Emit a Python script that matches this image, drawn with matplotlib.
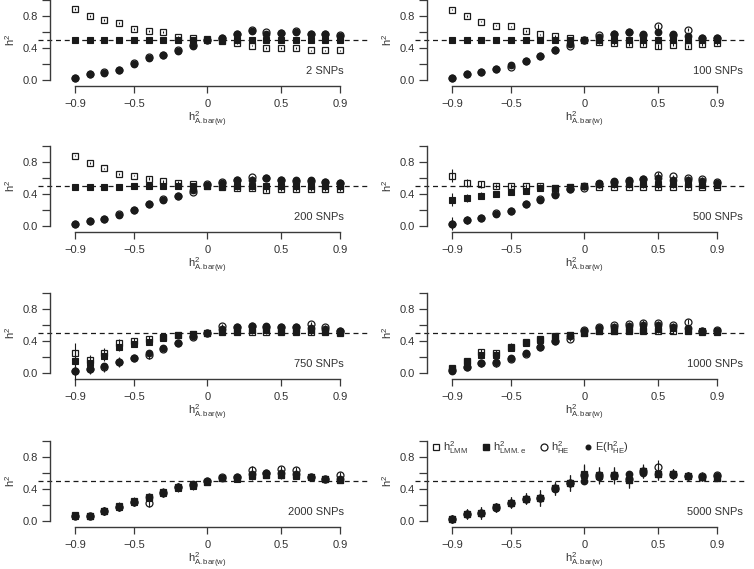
import matplotlib
matplotlib.use("Agg")
import matplotlib.pyplot as plt
from matplotlib.lines import Line2D
import numpy as np

plt.rcParams['font.family'] = ['Liberation Sans', 'DejaVu Sans']
plt.rcParams['mathtext.fontset'] = 'custom'
plt.rcParams['mathtext.rm'] = 'Liberation Sans'
plt.rcParams['mathtext.it'] = 'Liberation Sans:italic'

# x values (h2 A.bar(w))
x_vals = [-0.9, -0.8, -0.7, -0.6, -0.5, -0.4, -0.3, -0.2, -0.1, 0.0,
          0.1, 0.2, 0.3, 0.4, 0.5, 0.6, 0.7, 0.8, 0.9]
panel_names = ['2 SNPs', '100 SNPs', '200 SNPs', '500 SNPs',
               '750 SNPs', '1000 SNPs', '2000 SNPs', '5000 SNPs']

# 2 SNPs
lmm_2 = [0.89, 0.80, 0.75, 0.71, 0.64, 0.61, 0.60, 0.54, 0.53, 0.51, 0.49, 0.46, 0.43, 0.40, 0.40, 0.40, 0.37, 0.37, 0.37]
lmme_2 = [0.50, 0.50, 0.50, 0.50, 0.50, 0.50, 0.50, 0.50, 0.50, 0.50, 0.50, 0.50, 0.50, 0.50, 0.50, 0.50, 0.50, 0.50, 0.50]
he_2 = [0.03, 0.08, 0.10, 0.13, 0.21, 0.29, 0.31, 0.37, 0.44, 0.50, 0.53, 0.58, 0.63, 0.60, 0.59, 0.61, 0.57, 0.58, 0.56]
ehe_2 = [0.03, 0.07, 0.09, 0.12, 0.20, 0.27, 0.31, 0.36, 0.43, 0.50, 0.53, 0.58, 0.61, 0.58, 0.59, 0.60, 0.57, 0.57, 0.55]
err_2 = [0.01, 0.01, 0.01, 0.01, 0.01, 0.01, 0.01, 0.01, 0.01, 0.01, 0.01, 0.01, 0.01, 0.01, 0.01, 0.01, 0.01, 0.01, 0.01]

# 100 SNPs
lmm_100 = [0.88, 0.80, 0.73, 0.68, 0.67, 0.61, 0.57, 0.55, 0.53, 0.50, 0.47, 0.46, 0.45, 0.45, 0.42, 0.44, 0.42, 0.45, 0.46]
lmme_100 = [0.50, 0.50, 0.50, 0.50, 0.50, 0.50, 0.50, 0.50, 0.50, 0.50, 0.50, 0.50, 0.50, 0.50, 0.50, 0.50, 0.50, 0.50, 0.50]
he_100 = [0.03, 0.07, 0.10, 0.14, 0.16, 0.24, 0.30, 0.37, 0.42, 0.50, 0.56, 0.58, 0.60, 0.56, 0.67, 0.56, 0.63, 0.53, 0.52]
ehe_100 = [0.03, 0.07, 0.10, 0.14, 0.19, 0.24, 0.30, 0.37, 0.45, 0.50, 0.54, 0.58, 0.60, 0.58, 0.60, 0.57, 0.55, 0.53, 0.53]
err_100 = [0.01, 0.01, 0.01, 0.01, 0.01, 0.01, 0.01, 0.01, 0.01, 0.01, 0.02, 0.02, 0.02, 0.02, 0.03, 0.02, 0.02, 0.02, 0.02]

# 200 SNPs
lmm_200 = [0.88, 0.79, 0.72, 0.65, 0.63, 0.59, 0.56, 0.54, 0.52, 0.50, 0.49, 0.47, 0.47, 0.45, 0.46, 0.46, 0.46, 0.46, 0.46]
lmme_200 = [0.49, 0.49, 0.49, 0.49, 0.50, 0.50, 0.50, 0.50, 0.50, 0.50, 0.50, 0.50, 0.50, 0.50, 0.50, 0.50, 0.50, 0.50, 0.50]
he_200 = [0.03, 0.06, 0.09, 0.15, 0.20, 0.27, 0.34, 0.37, 0.43, 0.52, 0.55, 0.57, 0.61, 0.60, 0.57, 0.56, 0.56, 0.55, 0.54]
ehe_200 = [0.03, 0.06, 0.09, 0.14, 0.20, 0.27, 0.33, 0.37, 0.45, 0.51, 0.54, 0.57, 0.58, 0.60, 0.58, 0.57, 0.57, 0.55, 0.54]
err_200 = [0.01, 0.01, 0.01, 0.01, 0.01, 0.02, 0.02, 0.02, 0.02, 0.02, 0.02, 0.02, 0.02, 0.02, 0.02, 0.02, 0.02, 0.02, 0.02]

# 500 SNPs
lmm_500 = [0.63, 0.54, 0.52, 0.50, 0.50, 0.50, 0.50, 0.47, 0.49, 0.50, 0.49, 0.49, 0.49, 0.49, 0.49, 0.49, 0.49, 0.49, 0.49]
lmme_500 = [0.33, 0.35, 0.38, 0.40, 0.42, 0.44, 0.47, 0.48, 0.49, 0.50, 0.52, 0.52, 0.52, 0.53, 0.53, 0.52, 0.52, 0.51, 0.51]
he_500 = [0.03, 0.07, 0.10, 0.16, 0.19, 0.27, 0.34, 0.40, 0.46, 0.47, 0.53, 0.55, 0.56, 0.59, 0.64, 0.62, 0.60, 0.59, 0.55]
ehe_500 = [0.03, 0.07, 0.10, 0.15, 0.19, 0.27, 0.33, 0.39, 0.46, 0.50, 0.54, 0.56, 0.58, 0.59, 0.60, 0.58, 0.57, 0.56, 0.54]
err_500 = [0.08, 0.05, 0.04, 0.03, 0.03, 0.02, 0.02, 0.02, 0.02, 0.02, 0.02, 0.02, 0.02, 0.02, 0.03, 0.02, 0.02, 0.02, 0.02]

# 750 SNPs
lmm_750 = [0.25, 0.16, 0.25, 0.37, 0.40, 0.42, 0.45, 0.48, 0.49, 0.50, 0.51, 0.51, 0.51, 0.51, 0.51, 0.51, 0.51, 0.51, 0.50]
lmme_750 = [0.15, 0.13, 0.21, 0.33, 0.36, 0.39, 0.44, 0.48, 0.49, 0.50, 0.52, 0.53, 0.54, 0.54, 0.53, 0.53, 0.54, 0.52, 0.51]
he_750 = [0.03, 0.05, 0.07, 0.14, 0.19, 0.22, 0.30, 0.38, 0.45, 0.50, 0.59, 0.58, 0.59, 0.58, 0.58, 0.57, 0.61, 0.58, 0.53]
ehe_750 = [0.03, 0.05, 0.09, 0.14, 0.19, 0.25, 0.31, 0.38, 0.46, 0.50, 0.55, 0.57, 0.59, 0.59, 0.58, 0.57, 0.56, 0.55, 0.53]
err_750 = [0.12, 0.06, 0.06, 0.06, 0.04, 0.04, 0.03, 0.02, 0.02, 0.02, 0.02, 0.02, 0.02, 0.02, 0.02, 0.02, 0.03, 0.02, 0.02]

# 1000 SNPs
lmm_1000 = [0.06, 0.15, 0.26, 0.25, 0.33, 0.39, 0.43, 0.46, 0.48, 0.50, 0.52, 0.52, 0.53, 0.53, 0.53, 0.53, 0.52, 0.51, 0.51]
lmme_1000 = [0.05, 0.14, 0.23, 0.23, 0.31, 0.37, 0.41, 0.45, 0.48, 0.50, 0.53, 0.53, 0.54, 0.54, 0.55, 0.56, 0.54, 0.52, 0.52]
he_1000 = [0.04, 0.08, 0.12, 0.12, 0.18, 0.24, 0.33, 0.40, 0.43, 0.54, 0.58, 0.60, 0.61, 0.63, 0.62, 0.60, 0.64, 0.53, 0.54]
ehe_1000 = [0.03, 0.08, 0.12, 0.14, 0.19, 0.25, 0.33, 0.40, 0.46, 0.52, 0.56, 0.58, 0.59, 0.60, 0.60, 0.58, 0.56, 0.53, 0.53]
err_1000 = [0.03, 0.03, 0.04, 0.04, 0.04, 0.03, 0.03, 0.03, 0.03, 0.03, 0.03, 0.03, 0.03, 0.03, 0.03, 0.03, 0.03, 0.03, 0.03]

# 2000 SNPs
lmm_2000 = [0.07, 0.06, 0.13, 0.19, 0.25, 0.30, 0.36, 0.42, 0.45, 0.49, 0.54, 0.54, 0.57, 0.58, 0.58, 0.57, 0.55, 0.53, 0.51]
lmme_2000 = [0.06, 0.06, 0.12, 0.18, 0.24, 0.29, 0.35, 0.41, 0.44, 0.49, 0.54, 0.53, 0.56, 0.58, 0.57, 0.56, 0.55, 0.53, 0.51]
he_2000 = [0.06, 0.06, 0.13, 0.18, 0.24, 0.23, 0.35, 0.42, 0.45, 0.50, 0.55, 0.55, 0.64, 0.60, 0.65, 0.64, 0.55, 0.53, 0.58]
ehe_2000 = [0.06, 0.06, 0.13, 0.18, 0.24, 0.30, 0.36, 0.42, 0.46, 0.50, 0.54, 0.55, 0.59, 0.60, 0.60, 0.59, 0.55, 0.53, 0.52]
err_2000 = [0.04, 0.04, 0.05, 0.05, 0.05, 0.05, 0.05, 0.05, 0.05, 0.04, 0.04, 0.04, 0.05, 0.04, 0.04, 0.04, 0.03, 0.03, 0.03]

# 5000 SNPs
lmm_5000 = [0.02, 0.09, 0.10, 0.17, 0.23, 0.28, 0.29, 0.41, 0.48, 0.59, 0.57, 0.57, 0.51, 0.62, 0.59, 0.59, 0.56, 0.55, 0.54]
lmme_5000 = [0.02, 0.09, 0.10, 0.17, 0.23, 0.28, 0.29, 0.41, 0.48, 0.58, 0.56, 0.56, 0.51, 0.62, 0.59, 0.59, 0.56, 0.55, 0.54]
he_5000 = [0.02, 0.09, 0.10, 0.17, 0.23, 0.28, 0.29, 0.41, 0.47, 0.58, 0.58, 0.57, 0.53, 0.63, 0.68, 0.59, 0.56, 0.56, 0.57]
ehe_5000 = [0.02, 0.09, 0.10, 0.16, 0.22, 0.28, 0.29, 0.40, 0.47, 0.50, 0.55, 0.56, 0.59, 0.60, 0.59, 0.58, 0.56, 0.55, 0.56]
err_5000 = [0.05, 0.06, 0.07, 0.06, 0.07, 0.07, 0.10, 0.08, 0.10, 0.12, 0.10, 0.10, 0.10, 0.08, 0.08, 0.06, 0.05, 0.05, 0.04]

panels = [
    (lmm_2, lmme_2, he_2, ehe_2, err_2),
    (lmm_100, lmme_100, he_100, ehe_100, err_100),
    (lmm_200, lmme_200, he_200, ehe_200, err_200),
    (lmm_500, lmme_500, he_500, ehe_500, err_500),
    (lmm_750, lmme_750, he_750, ehe_750, err_750),
    (lmm_1000, lmme_1000, he_1000, ehe_1000, err_1000),
    (lmm_2000, lmme_2000, he_2000, ehe_2000, err_2000),
    (lmm_5000, lmme_5000, he_5000, ehe_5000, err_5000),
]

ink = '#1a1a1a'
axis_col = '#3a3a3a'

fig = plt.figure(figsize=(7.54, 5.69), dpi=100)

row_bottoms = [0.8489, 0.5923, 0.3339, 0.0738]
col_lefts = [0.0504, 0.5504]
ax_w, ax_h = 0.439, 0.1511
label_x = [0.927, 1.077]

for i, (lmm, lmme, he, ehe, err) in enumerate(panels):
    r, c = divmod(i, 2)
    ax = fig.add_axes([col_lefts[c], row_bottoms[r], ax_w, ax_h])
    ax.set_xlim(-1.151, 1.097)
    ax.set_ylim(-0.075, 1.0)

    ax.axhline(0.5, color=ink, lw=0.9, ls=(0, (4, 3)), zorder=1)

    ax.errorbar(x_vals, lmm, yerr=err, fmt='s', ms=4.3, mfc='none', mec=ink,
                mew=0.9, ecolor=ink, elinewidth=0.8, capsize=0, clip_on=False, zorder=3)
    ax.errorbar(x_vals, lmme, yerr=err, fmt='s', ms=4.3, mfc=ink, mec=ink,
                mew=0.8, ecolor=ink, elinewidth=0.8, capsize=0, clip_on=False, zorder=3)
    ax.errorbar(x_vals, he, yerr=err, fmt='o', ms=5.0, mfc='none', mec=ink,
                mew=0.9, ecolor=ink, elinewidth=0.8, capsize=0, clip_on=False, zorder=4)
    ax.plot(x_vals, ehe, 'o', ms=4.6, color=ink, clip_on=False, zorder=4)

    for s in ['top', 'right']:
        ax.spines[s].set_visible(False)
    ax.spines['left'].set_position(('data', -1.07))
    ax.spines['left'].set_bounds(0, 1.0)
    ax.spines['bottom'].set_bounds(-0.9, 0.9)
    for s in ['left', 'bottom']:
        ax.spines[s].set_color(axis_col)
        ax.spines[s].set_linewidth(1.0)

    ax.set_yticks([0.0, 0.2, 0.4, 0.6, 0.8, 1.0])
    ax.set_yticklabels(['0.0', '', '0.4', '', '0.8', ''])
    ax.set_xticks([-0.9, -0.5, 0, 0.5, 0.9])
    ax.set_xticklabels(['\u22120.9', '\u22120.5', '0', '0.5', '0.9'])
    ax.tick_params(axis='y', length=6, width=0.9, color=axis_col, labelsize=8,
                   labelcolor='#333333', pad=2.5)
    ax.tick_params(axis='x', length=5, width=0.9, color=axis_col, labelsize=8,
                   labelcolor='#333333', pad=4.5)

    ax.set_ylabel(r'$\mathrm{h}^2$', fontsize=8, color='#333333')
    ax.yaxis.set_label_coords(-0.064, 0.535)
    ax.set_xlabel(r'$\mathrm{h}^2_{\mathrm{A.bar(w)}}$', fontsize=8, color='#333333')
    ax.xaxis.set_label_coords(0.51, -0.27)

    ax.text(label_x[c], 0.11, panel_names[i], ha='right', va='center',
            fontsize=8, color='#333333')

    if i == 7:
        handles = [
            Line2D([], [], ls='none', marker='s', ms=4.3, mfc='none', mec=ink, mew=0.9),
            Line2D([], [], ls='none', marker='s', ms=4.3, mfc=ink, mec=ink),
            Line2D([], [], ls='none', marker='o', ms=5.0, mfc='none', mec=ink, mew=0.9),
            Line2D([], [], ls='none', marker='o', ms=3.3, mfc=ink, mec=ink),
        ]
        labels = [r'$\mathrm{h}^2_{\mathrm{LMM}}$', r'$\mathrm{h}^2_{\mathrm{LMM.e}}$',
                  r'$\mathrm{h}^2_{\mathrm{HE}}$', r'E($\mathrm{h}^2_{\mathrm{HE}}$)']
        ax.legend(handles, labels, ncol=4, frameon=False, loc='center left',
                  bbox_to_anchor=(0.035, 0.92), fontsize=8, handlelength=0.7,
                  handletextpad=0.3, columnspacing=1.25, borderpad=0,
                  labelcolor='#333333')

fig.savefig('out.png', dpi=100)
